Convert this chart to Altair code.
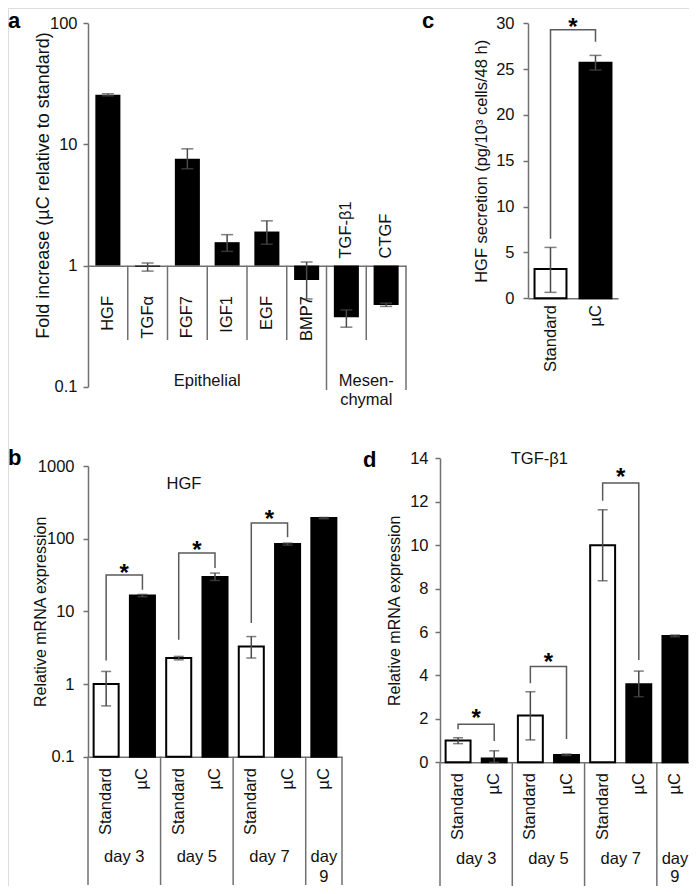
import altair as alt
import pandas as pd

# ---------------- data ----------------
# panel a: fold increase (µC relative to standard), log scale
genes = ["HGF", "TGFα", "FGF7", "IGF1", "EGF", "BMP7", "TGF-β1", "CTGF"]
fold = [25.7, 0.98, 7.6, 1.56, 1.91, 0.76, 0.374, 0.473]
fold_lo = [25.2, 0.90, 6.3, 1.31, 1.50, 0.53, 0.31, 0.46]
fold_hi = [26.2, 1.05, 9.2, 1.80, 2.34, 1.07, 0.43, 0.49]
labels_above = ["TGF-β1", "CTGF"]
group_labels = ["Epithelial", "Mesen-\nchymal"]
group_anchor = ["IGF1", "CTGF"]
sep_short = ["TGFα", "FGF7", "IGF1", "EGF", "BMP7", "CTGF"]
sep_long_left = ["TGF-β1"]
sep_long_right = ["CTGF"]

# panel c: HGF secretion
sec_cond = ["Standard", "µC"]
sec_val = [3.2, 25.7]
sec_lo = [0.65, 24.9]
sec_hi = [5.55, 26.5]
sec_bracket = [6.5, 29.3, 28.0]  # left end, top, right end
sec_star = [30.3]

# panels b / d: relative mRNA expression over days
keys = ["Standard-3", "µC-3", "Standard-5", "µC-5", "Standard-7", "µC-7", "µC-9"]
cond = ["Standard", "µC", "Standard", "µC", "Standard", "µC", "µC"]
day_labels = ["day 3", "day 5", "day 7", "day\n9"]
day_anchor = ["µC-3", "µC-5", "µC-7", "µC-9"]
sep_left = ["Standard-3", "Standard-5", "Standard-7", "µC-9"]
sep_right = ["µC-9"]
pairs = [("Standard-3", "µC-3"), ("Standard-5", "µC-5"), ("Standard-7", "µC-7")]

hgf_mrna = [1.0, 16.5, 2.28, 29.6, 3.29, 84.3, 192]
hgf_lo = [0.50, 15.9, 2.15, 26.6, 2.28, 81.5, 188]
hgf_hi = [1.49, 17.1, 2.40, 33.6, 4.50, 87.0, 196]
hgf_br_left = [2.11, 4.07, 6.9]
hgf_br_top = [31.6, 63.4, 164]
hgf_br_right = [19.8, 39.4, 105]
hgf_stars = [40.2, 84.3, 225]

tgf_mrna = [1.0, 0.17, 2.15, 0.34, 10.0, 3.6, 5.82]
tgf_lo = [0.86, 0.0, 1.03, 0.31, 8.36, 3.02, 5.78]
tgf_hi = [1.13, 0.53, 3.25, 0.38, 11.63, 4.2, 5.86]
tgf_br_left = [1.52, 3.64, 12.04]
tgf_br_top = [1.75, 4.41, 12.86]
tgf_br_right = [0.98, 1.07, 4.71]
tgf_stars = [2.33, 4.9, 13.4]

panel_letters = ["a", "c", "b", "d"]

# ---------------- style / layout ----------------
W, H = 681, 878
FONT = "Liberation Sans"
AXC = "#707070"
ERRC = "#4a4a4a"
BRC = "#5a5a5a"
TXT = "#111111"


def P(v):
    return v - 8


def yaxis(values, title, axis_x, title_cx, fmt, lpad, label_size, title_size, title_cy=None):
    kw = dict(orient="left", offset=-P(axis_x), values=values, format=fmt, title=title,
              titleX=title_cx - axis_x + 1, titleBaseline="middle", titleAlign="center",
              titleAngle=270, titleFont=FONT, titleFontSize=title_size, titleFontWeight="normal",
              titleColor=TXT, labelFont=FONT, labelFontSize=label_size, labelColor=TXT,
              labelPadding=lpad, tickSize=5, tickWidth=1.5, tickColor=AXC,
              domainColor=AXC, domainWidth=1.5, grid=False, titleLimit=600)
    if title_cy is not None:
        kw["titleY"] = P(title_cy)
    return alt.Axis(**kw)


def xaxis(axis_y):
    return alt.Axis(orient="bottom", offset=P(axis_y) - H, labels=False, ticks=False,
                    title=None, domainColor=AXC, domainWidth=1.5, grid=False)


fill_scale = alt.Scale(domain=["Standard", "µC"], range=["white", "black"])

# ---------------- panel a ----------------
dfa = pd.DataFrame({"gene": genes, "val": fold, "lo": fold_lo, "hi": fold_hi})
dfa["pos"] = ["above" if g in labels_above else "below" for g in genes]
sx_a = alt.Scale(domain=genes, range=[P(88), P(406)], paddingInner=0, paddingOuter=0)
sy_a = alt.Scale(type="log", domain=[0.1, 100], range=[P(386.7), P(23.3)], nice=False)
ax_xa = xaxis(265.7)
ax_ya = yaxis([0.1, 1, 10, 100], "Fold increase (µC relative to standard)", 88, 42, "~g", 6,
              16.5, 18, 185)


def XA(bp=None):
    if bp is None:
        return alt.X("gene:N", scale=sx_a, axis=ax_xa)
    return alt.X("gene:N", scale=sx_a, axis=ax_xa, bandPosition=bp)


def YA(f):
    return alt.Y(f"{f}:Q", scale=sy_a, axis=ax_ya)


base_a = alt.Chart(dfa)
a_layers = [
    base_a.mark_bar(color="black", width=alt.RelativeBandSize(0.63)).encode(
        x=XA(), y=YA("val"), y2=alt.datum(1)),
    base_a.mark_rule(color=ERRC, strokeWidth=1.5).encode(x=XA(), y=YA("lo"), y2="hi:Q"),
    base_a.mark_tick(color=ERRC, thickness=1.5, size=12).encode(x=XA(), y=YA("lo")),
    base_a.mark_tick(color=ERRC, thickness=1.5, size=12).encode(x=XA(), y=YA("hi")),
    base_a.mark_text(angle=270, align="right", baseline="middle", font=FONT, fontSize=16.5,
                     color=TXT).encode(x=XA(), y=alt.value(P(296)), text="gene:N"
                                       ).transform_filter(alt.datum.pos == "below"),
    base_a.mark_text(angle=270, align="left", baseline="middle", font=FONT, fontSize=16.5,
                     color=TXT).encode(x=XA(), y=alt.value(P(258.5)), text="gene:N"
                                       ).transform_filter(alt.datum.pos == "above"),
    alt.Chart(pd.DataFrame({"gene": sep_short})).mark_rule(color=AXC, strokeWidth=1.5).encode(
        x=XA(0), y=alt.value(P(265.7)), y2=alt.value(P(340))),
    alt.Chart(pd.DataFrame({"gene": sep_long_left})).mark_rule(color=AXC, strokeWidth=1.5).encode(
        x=XA(0), y=alt.value(P(265.7)), y2=alt.value(P(390))),
    alt.Chart(pd.DataFrame({"gene": sep_long_right})).mark_rule(color=AXC, strokeWidth=1.5).encode(
        x=XA(1), y=alt.value(P(265.7)), y2=alt.value(P(390))),
    alt.Chart(pd.DataFrame({"gene": group_anchor, "label": group_labels})).mark_text(
        align="center", baseline="alphabetic", lineBreak="\n", lineHeight=19, font=FONT,
        fontSize=16.5, color=TXT).encode(x=XA(0), y=alt.value(P(385.5)), text="label:N"),
]
panel_a = alt.layer(*a_layers)

# ---------------- panel c ----------------
dfc = pd.DataFrame({"cond": sec_cond, "val": sec_val, "lo": sec_lo, "hi": sec_hi})
sx_c = alt.Scale(domain=sec_cond, range=[P(528), P(618)], paddingInner=0, paddingOuter=0)
sy_c = alt.Scale(domain=[0, 30], range=[P(298.3), P(23.3)], nice=False, zero=False)
ax_xc = xaxis(298.3)
ax_yc = yaxis([0, 5, 10, 15, 20, 25, 30], "HGF secretion (pg/10³ cells/48 h)", 528, 480, "d", 9,
              16.5, 16.5)


def XC(bp=None, f="cond"):
    if bp is None:
        return alt.X(f"{f}:N", scale=sx_c, axis=ax_xc)
    return alt.X(f"{f}:N", scale=sx_c, axis=ax_xc, bandPosition=bp)


def YC(f):
    return alt.Y(f"{f}:Q", scale=sy_c, axis=ax_yc)


dfc_br = pd.DataFrame({"cond": [sec_cond[0], sec_cond[0], sec_cond[1], sec_cond[1]],
                       "y": [sec_bracket[0], sec_bracket[1], sec_bracket[1], sec_bracket[2]],
                       "o": [0, 1, 2, 3]})
base_c = alt.Chart(dfc)
c_layers = [
    base_c.mark_bar(stroke="black", strokeWidth=2, width=alt.RelativeBandSize(0.71)).encode(
        x=XC(), y=YC("val"), y2=alt.datum(0),
        fill=alt.Fill("cond:N", scale=fill_scale, legend=None)),
    base_c.mark_rule(color=ERRC, strokeWidth=1.5).encode(x=XC(), y=YC("lo"), y2="hi:Q"),
    base_c.mark_tick(color=ERRC, thickness=1.5, size=12).encode(x=XC(), y=YC("lo")),
    base_c.mark_tick(color=ERRC, thickness=1.5, size=12).encode(x=XC(), y=YC("hi")),
    base_c.mark_text(angle=270, align="right", baseline="middle", font=FONT, fontSize=16.5,
                     color=TXT).encode(x=XC(), y=alt.value(P(305)), text="cond:N"),
    alt.Chart(dfc_br).mark_line(color=BRC, strokeWidth=1.5).encode(
        x=XC(), y=YC("y"), order="o:Q"),
    alt.Chart(pd.DataFrame({"cond": [sec_cond[1]], "y": sec_star})).mark_text(
        text="*", font=FONT, fontSize=24, fontWeight="bold", baseline="alphabetic", dy=14,
        color="black").encode(x=XC(0), y=YC("y")),
]
panel_c = alt.layer(*c_layers)


# ---------------- panels b / d ----------------
def mrna_panel(vals, lo, hi, bl, bt, br, stars, *, log, domain, ticks, fmt, x0, x1, ybot,
               ytop, lpad, title_cx, gene_title, gt_x, gt_y, lab_top, sep_bot, day_base, lh, cap):
    df = pd.DataFrame({"key": keys, "cond": cond, "val": vals, "lo": lo, "hi": hi})
    sx = alt.Scale(domain=keys, range=[P(x0), P(x1)], paddingInner=0, paddingOuter=0)
    if log:
        sy = alt.Scale(type="log", domain=domain, range=[P(ybot), P(ytop)], nice=False)
    else:
        sy = alt.Scale(domain=domain, range=[P(ybot), P(ytop)], nice=False, zero=False)
    axx = xaxis(ybot)
    axy = yaxis(ticks, "Relative mRNA expression", x0, title_cx, fmt, lpad, 16.5, 16)

    def X(bp=None):
        if bp is None:
            return alt.X("key:N", scale=sx, axis=axx)
        return alt.X("key:N", scale=sx, axis=axx, bandPosition=bp)

    def Y(f):
        return alt.Y(f"{f}:Q", scale=sy, axis=axy)

    rows = []
    for i, (s, u) in enumerate(pairs):
        rows += [(s, bl[i], i, 0), (s, bt[i], i, 1), (u, bt[i], i, 2), (u, br[i], i, 3)]
    dbr = pd.DataFrame(rows, columns=["key", "y", "id", "o"])
    dstar = pd.DataFrame({"key": [u for _, u in pairs], "y": stars})
    dday = pd.DataFrame({"key": day_anchor, "label": day_labels})
    base = alt.Chart(df)
    txt = dict(font=FONT, fontSize=16.5, color=TXT)
    layers = [
        base.mark_bar(stroke="black", strokeWidth=2, width=alt.RelativeBandSize(0.69)).encode(
            x=X(), y=Y("val"), y2=alt.datum(domain[0]),
            fill=alt.Fill("cond:N", scale=fill_scale, legend=None)),
        base.mark_rule(color=ERRC, strokeWidth=1.5).encode(x=X(), y=Y("lo"), y2="hi:Q"),
        base.mark_tick(color=ERRC, thickness=1.5, size=cap).encode(x=X(), y=Y("lo")),
        base.mark_tick(color=ERRC, thickness=1.5, size=cap).encode(x=X(), y=Y("hi")),
        base.mark_text(angle=270, align="right", baseline="middle", **txt).encode(
            x=X(), y=alt.value(P(lab_top)), text="cond:N"),
        alt.Chart(dbr).mark_line(color=BRC, strokeWidth=1.5).encode(
            x=X(), y=Y("y"), detail="id:N", order="o:Q"),
        alt.Chart(dstar).mark_text(text="*", font=FONT, fontSize=24, fontWeight="bold",
                                   baseline="alphabetic", dy=14, color="black").encode(
            x=X(0), y=Y("y")),
        alt.Chart(pd.DataFrame({"key": sep_left})).mark_rule(color=AXC, strokeWidth=1.5).encode(
            x=X(0), y=alt.value(P(ybot)), y2=alt.value(P(sep_bot))),
        alt.Chart(pd.DataFrame({"key": sep_right})).mark_rule(color=AXC, strokeWidth=1.5).encode(
            x=X(1), y=alt.value(P(ybot)), y2=alt.value(P(sep_bot))),
        alt.Chart(dday).transform_filter(alt.datum.key != day_anchor[-1]).mark_text(
            align="center", baseline="alphabetic", **txt).encode(
            x=X(0), y=alt.value(P(day_base)), text="label:N"),
        alt.Chart(dday).transform_filter(alt.datum.key == day_anchor[-1]).mark_text(
            align="center", baseline="alphabetic", lineBreak="\n", lineHeight=lh, **txt).encode(
            x=X(0.5), y=alt.value(P(day_base)), text="label:N"),
        alt.Chart(pd.DataFrame({"t": [gene_title]})).mark_text(
            align="center", baseline="alphabetic", **txt).encode(
            x=alt.value(P(gt_x)), y=alt.value(P(gt_y)), text="t:N"),
    ]
    return alt.layer(*layers)


panel_b = mrna_panel(hgf_mrna, hgf_lo, hgf_hi, hgf_br_left, hgf_br_top, hgf_br_right, hgf_stars,
                     log=True, domain=[0.1, 1000], ticks=[0.1, 1, 10, 100, 1000], fmt="~g",
                     x0=88, x1=342, ybot=756.7, ytop=466, lpad=9, title_cx=39,
                     gene_title="HGF", gt_x=184, gt_y=488.5, lab_top=768, sep_bot=885,
                     day_base=861.5, lh=20, cap=10)
panel_d = mrna_panel(tgf_mrna, tgf_lo, tgf_hi, tgf_br_left, tgf_br_top, tgf_br_right, tgf_stars,
                     log=False, domain=[0, 14], ticks=[0, 2, 4, 6, 8, 10, 12, 14], fmt="d",
                     x0=440, x1=693, ybot=762.3, ytop=458.3, lpad=7, title_cx=393,
                     gene_title="TGF-β1", gt_x=539.3, gt_y=464, lab_top=773, sep_bot=886,
                     day_base=863.5, lh=18.5, cap=10)

# ---------------- panel letters ----------------
letter_pos = {"a": (8, 28, 22), "c": (422, 28, 22), "b": (8, 465, 22), "d": (363, 466.5, 22)}
letters = []
for L in panel_letters:
    lx, ly, fs = letter_pos[L]
    letters.append(alt.Chart(pd.DataFrame({"t": [L]})).mark_text(
        align="left", baseline="alphabetic", font=FONT, fontSize=fs, fontWeight="bold",
        color="black").encode(x=alt.value(P(lx)), y=alt.value(P(ly)), text="t:N"))

chart = alt.layer(panel_a, panel_c, panel_b, panel_d, *letters).resolve_scale(
    x="independent", y="independent"
).properties(
    width=W, height=H, autosize=alt.AutoSizeParams(type="none"), padding=0
).configure_view(stroke=None).configure(background="white")

chart.save("out.html", embed_options={"renderer": "svg", "actions": False})
